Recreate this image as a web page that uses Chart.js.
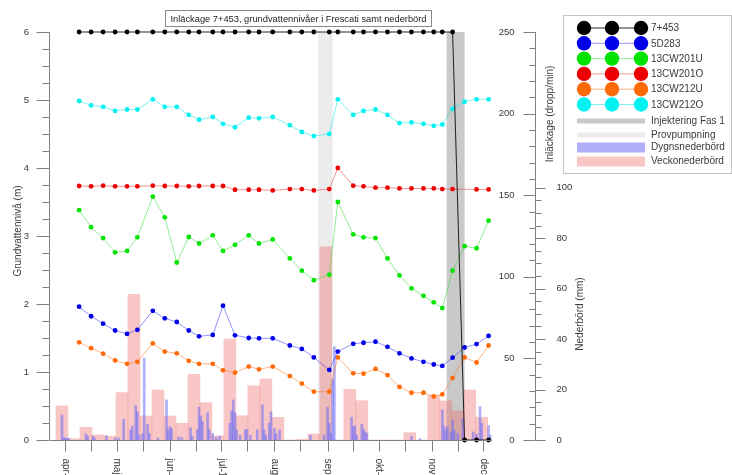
<!DOCTYPE html>
<html>
<head>
<meta charset="utf-8">
<script src="https://cdn.jsdelivr.net/npm/chart.js@4.4.1/dist/chart.umd.min.js"></script>
<style>
  html, body { margin: 0; padding: 0; background: #fff; overflow: hidden; }
</style>
</head>
<body>
<canvas id="chart" width="732" height="475"></canvas>
<script>
// dagar räknade från 1 april
const pointDays = [8, 15, 22, 29, 36, 42, 51, 58, 65, 72, 78, 86, 92, 99, 107, 113, 121, 131, 138, 145,
  154, 159, 168, 174, 181, 188, 195, 202, 209, 215, 220, 226, 233, 240, 247];

const inl7453 = [250, 250, 250, 250, 250, 250, 250, 250, 250, 250, 250, 250, 250, 250, 250, 250, 250, 250, 250, 250,
  250, 250, 250, 250, 250, 250, 250, 250, 250, 250, 250, 250, 0, 0, 0];
const gw5D283 = [1.96, 1.82, 1.71, 1.61, 1.56, 1.62, 1.90, 1.79, 1.735, 1.61, 1.525, 1.545, 1.975, 1.54, 1.50, 1.495, 1.495, 1.39, 1.34, 1.215,
  1.03, 1.30, 1.415, 1.43, 1.445, 1.37, 1.275, 1.20, 1.15, 1.11, 1.09, 1.21, 1.36, 1.41, 1.53];
const gw13CW201U = [3.38, 3.13, 2.97, 2.76, 2.78, 2.98, 3.58, 3.275, 2.61, 2.985, 2.89, 3.01, 2.78, 2.87, 3.01, 2.89, 2.95, 2.67, 2.49, 2.35,
  2.43, 3.50, 3.025, 2.98, 2.97, 2.67, 2.42, 2.23, 2.12, 2.025, 1.94, 2.49, 2.85, 2.82, 3.225];
const gw13CW201O = [3.735, 3.73, 3.74, 3.73, 3.73, 3.73, 3.74, 3.735, 3.735, 3.73, 3.735, 3.735, 3.735, 3.68, 3.68, 3.68, 3.67, 3.69, 3.69, 3.67,
  3.69, 4.00, 3.74, 3.73, 3.71, 3.71, 3.70, 3.70, 3.70, 3.70, 3.69, 3.69, null, 3.685, 3.685];
const gw13CW212U = [1.437, 1.35, 1.27, 1.17, 1.12, 1.15, 1.42, 1.30, 1.275, 1.165, 1.12, 1.12, 1.025, 0.99, 1.08, 1.04, 1.08, 0.94, 0.83, 0.71,
  0.71, 1.215, 0.98, 0.975, 1.045, 0.955, 0.78, 0.695, 0.695, 0.64, 0.67, 0.91, 1.215, 1.14, 1.39];
const gw13CW212O = [4.985, 4.92, 4.90, 4.84, 4.86, 4.86, 5.01, 4.90, 4.90, 4.78, 4.71, 4.75, 4.65, 4.60, 4.74, 4.73, 4.75, 4.63, 4.53, 4.47,
  4.50, 5.01, 4.78, 4.84, 4.86, 4.78, 4.66, 4.67, 4.65, 4.62, 4.64, 4.87, 4.975, 5.01, 5.01];

const seriesNames = ['7+453', '5D283', '13CW201U', '13CW201O', '13CW212U', '13CW212O'];
const seriesValues = [inl7453, gw5D283, gw13CW201U, gw13CW201O, gw13CW212U, gw13CW212O];
const seriesColors = ['#000000', '#0000e8', '#00e400', '#ec0000', '#ff6a08', '#00f2f2'];
const lineColors = ['rgba(0,0,0,0.85)', 'rgba(40,40,255,0.5)', 'rgba(40,220,40,0.5)', 'rgba(236,40,40,0.5)', 'rgba(255,120,30,0.55)', 'rgba(0,230,230,0.5)'];

// veckonederbörd (mm), veckans mittdag
const weekDays = [-2, 5, 12, 19, 26, 33, 40, 47, 54, 61, 68, 75, 82, 89, 96, 103, 110, 117, 124, 131,
  138, 145, 152, 159, 166, 173, 180, 187, 194, 201, 208, 215, 222, 229, 236, 243];
const weekRain = [13.5, 0.5, 5, 2, 1.5, 18.8, 57.7, 9.5, 19.8, 9.5, 6.6, 26, 14.8, 1.6, 40, 9.6, 21.5, 24.2, 9, 0,
  0.3, 2.4, 76.6, 0, 20.1, 15.6, 0, 0, 0, 2.9, 0, 17.6, 15.5, 11.5, 19.8, 9];

// dygnsnederbörd (mm)
const dayDays = [-2, -1, 0, 1, 2, 12, 13, 16, 17, 24, 29, 31, 34, 38, 39, 41, 42, 43, 45, 46,
  48, 49, 54, 59, 60, 61, 62, 66, 68, 73, 74, 77, 78, 79, 80, 83, 84, 86, 88, 90,
  96, 97, 98, 99, 100, 102, 105, 106, 108, 112, 115, 116, 117, 119, 120, 122, 123, 125, 143, 151,
  153, 154, 155, 156, 157, 167, 168, 169, 170, 173, 174, 175, 176, 202, 207, 220, 221, 222, 223, 225,
  226, 227, 229, 232, 238, 240, 242, 243, 247, 248];
const dayRain = [9.9, 1, 0.6, 0.6, 0.6, 2.4, 1.4, 1.6, 0.8, 1.8, 0.8, 0.8, 8.2, 4, 5.5, 13.5, 11.2, 2, 2.4, 32.4,
  6.2, 2.6, 0.8, 15.9, 4, 5.3, 4.6, 1.2, 1, 4.9, 1.6, 4, 13, 9.5, 7.3, 10.8, 4, 2.6, 1, 1.6,
  6.6, 11.6, 15.9, 10.8, 4, 1.9, 4, 4.2, 1.9, 4, 13.9, 4, 1.9, 6.6, 11.2, 4.6, 2.4, 4, 1.9, 2,
  13, 6.6, 2.6, 24, 37, 9, 5.3, 5.5, 1.9, 6.2, 4.2, 3.2, 2.6, 1.5, 0.5, 11.9, 5.5, 4, 5.3, 3.2,
  7.9, 4, 2.6, 8.6, 3.2, 2.4, 13.2, 6.6, 5.7, 1.9];

// perioder
const bandNames = ['Injektering Fas 1', 'Provpumpning'];
const bandStart = [222.5, 147.5];
const bandEnd = [233, 156];
const bandColors = ['#c9c9c9', '#ececec'];

// axlar
const monthTickDays = [0, 30, 61, 91, 122, 153, 183, 214, 244];
const monthLabels = ['apr-', 'maj', 'jun-', 'jul-1', 'aug', 'sep', 'okt-', 'nov', 'dec'];
const midTickDays = [15, 45, 76, 106, 137, 168, 198, 229];
const gwTicks = [0, 1, 2, 3, 4, 5, 6];
const inlTicks = [0, 50, 100, 150, 200, 250];
const rainTicks = [0, 20, 40, 60, 80, 100];

const chartTitle = 'Inläckage 7+453, grundvattennivåer i Frescati samt nederbörd';
const FONT = '"Liberation Sans", Arial, sans-serif';
const TEXT = '#3a3a3a';
const AXIS = '#808080';

function toPoints(days, vals) {
  return days.map((d, i) => ({ x: d, y: vals[i] }));
}

const datasets = seriesNames.map((name, i) => ({
  type: 'line',
  label: name,
  data: toPoints(pointDays, seriesValues[i]),
  yAxisID: i === 0 ? 'y1' : 'y',
  borderColor: lineColors[i],
  backgroundColor: seriesColors[i],
  pointBackgroundColor: seriesColors[i],
  pointBorderWidth: 0,
  pointRadius: 2.4,
  borderWidth: 1,
  spanGaps: true,
  tension: 0,
  clip: false
}));

datasets.push({
  type: 'bar',
  label: 'Dygnsnederbörd',
  data: toPoints(dayDays, dayRain),
  yAxisID: 'y2',
  backgroundColor: 'rgba(110,110,245,0.55)',
  borderWidth: 0,
  barThickness: 2,
  grouped: false
});
datasets.push({
  type: 'bar',
  label: 'Veckonederbörd',
  data: toPoints(weekDays, weekRain),
  yAxisID: 'y2',
  backgroundColor: 'rgba(240,112,112,0.4)',
  borderWidth: 0,
  barThickness: 12,
  grouped: false
});

function hLine(ctx, x0, y0, x1, y1) {
  ctx.beginPath();
  ctx.moveTo(x0, y0);
  ctx.lineTo(x1, y1);
  ctx.stroke();
}

// ritar en lodrät axel: linje, större/mindre streck och etiketter
function drawVAxis(ctx, scale, x, majors, minorStep, dir, majLen, minLen, labelX, align) {
  const top = Math.round(scale.getPixelForValue(majors[majors.length - 1]));
  const bottom = Math.round(scale.getPixelForValue(majors[0]));
  hLine(ctx, x, top, x, bottom);
  for (let v = majors[0]; v <= majors[majors.length - 1] + 1e-6; v += minorStep) {
    const y = Math.round(scale.getPixelForValue(v)) + 0.5;
    const isMajor = majors.some(m => Math.abs(m - v) < 1e-6);
    hLine(ctx, x, y, x + dir * (isMajor ? majLen : minLen), y);
  }
  ctx.textAlign = align;
  ctx.textBaseline = 'middle';
  majors.forEach(m => ctx.fillText(String(m), labelX, scale.getPixelForValue(m)));
}

function rotatedText(ctx, text, x, y, angle, align) {
  ctx.save();
  ctx.translate(x, y);
  ctx.rotate(angle);
  ctx.textAlign = align;
  ctx.textBaseline = 'middle';
  ctx.fillText(text, 0, 0);
  ctx.restore();
}

const overlay = {
  id: 'overlay',
  beforeDatasetsDraw(chart) {
    const ctx = chart.ctx, ca = chart.chartArea, xs = chart.scales.x;
    ctx.save();
    bandNames.forEach((n, i) => {
      const x0 = xs.getPixelForValue(bandStart[i]);
      const x1 = xs.getPixelForValue(bandEnd[i]);
      ctx.fillStyle = bandColors[i];
      ctx.fillRect(x0, ca.top, x1 - x0, ca.bottom - ca.top);
    });
    ctx.restore();
  },
  afterDraw(chart) {
    const ctx = chart.ctx, ca = chart.chartArea;
    const xs = chart.scales.x, ys = chart.scales.y, y1 = chart.scales.y1, y2 = chart.scales.y2;
    ctx.save();
    ctx.strokeStyle = AXIS;
    ctx.lineWidth = 1;
    ctx.fillStyle = TEXT;
    ctx.font = '9.5px ' + FONT;

    // vänster axel
    drawVAxis(ctx, ys, ca.left - 0.5, gwTicks, 0.25, -1, 13, 7, ca.left - 21, 'right');
    ctx.font = '10px ' + FONT;
    rotatedText(ctx, 'Grundvattennivå (m)', 18, 231, -Math.PI / 2, 'center');

    // höger axlar
    const rx = ca.right + 43.5;
    ctx.font = '9.5px ' + FONT;
    drawVAxis(ctx, y1, rx, inlTicks, 10, -1, 12, 6, rx - 21, 'right');
    drawVAxis(ctx, y2, rx, rainTicks, 5, 1, 10, 6, rx + 21, 'left');
    ctx.font = '10px ' + FONT;
    rotatedText(ctx, 'Inläckage (dropp/min)', rx + 15, 114, -Math.PI / 2, 'center');
    rotatedText(ctx, 'Nederbörd (mm)', rx + 45, 314, -Math.PI / 2, 'center');

    // x-axel
    const by = ca.bottom + 0.5;
    hLine(ctx, ca.left, by, ca.right, by);
    monthTickDays.concat(midTickDays).forEach(d => {
      const x = Math.round(xs.getPixelForValue(d)) + 0.5;
      hLine(ctx, x, by, x, by + 11);
    });
    ctx.font = '10px ' + FONT;
    monthTickDays.forEach((d, i) => {
      rotatedText(ctx, monthLabels[i], xs.getPixelForValue(d), by + 18, Math.PI / 2, 'left');
    });

    // rubrik
    ctx.strokeStyle = '#8a8a8a';
    ctx.strokeRect(165.5, 10.5, 266, 16);
    ctx.font = '9.3px ' + FONT;
    ctx.fillStyle = '#222';
    ctx.textAlign = 'center';
    ctx.textBaseline = 'middle';
    ctx.fillText(chartTitle, 298.5, 19);

    // teckenförklaring
    ctx.strokeStyle = '#c4c4c4';
    ctx.strokeRect(563.5, 15.5, 168, 158);
    ctx.font = '10px ' + FONT;
    ctx.textAlign = 'left';
    const cxs = [584, 612, 641];
    seriesNames.forEach((n, i) => {
      const y = 28 + i * 15.3;
      ctx.strokeStyle = lineColors[i];
      hLine(ctx, cxs[0], y, cxs[2], y);
      ctx.fillStyle = seriesColors[i];
      cxs.forEach(cx => {
        ctx.beginPath();
        ctx.arc(cx, y, 7.2, 0, Math.PI * 2);
        ctx.fill();
      });
      ctx.fillStyle = TEXT;
      ctx.fillText(n, 651, y + 0.5);
    });
    const boxEntries = [
      { label: bandNames[0], color: bandColors[0], y: 121, h: 5 },
      { label: bandNames[1], color: bandColors[1], y: 135, h: 5 },
      { label: 'Dygnsnederbörd', color: 'rgba(110,110,245,0.55)', y: 147.5, h: 10 },
      { label: 'Veckonederbörd', color: 'rgba(240,112,112,0.4)', y: 161.5, h: 10 }
    ];
    boxEntries.forEach(e => {
      ctx.fillStyle = e.color;
      ctx.fillRect(577, e.y - e.h / 2, 68, e.h);
      ctx.fillStyle = TEXT;
      ctx.fillText(e.label, 651, e.y);
    });
    ctx.restore();
  }
};

new Chart(document.getElementById('chart'), {
  type: 'line',
  data: { datasets },
  options: {
    responsive: false,
    devicePixelRatio: 1,
    animation: false,
    events: [],
    layout: { padding: { left: 50, top: 32, right: 240, bottom: 35 } },
    plugins: { legend: { display: false }, tooltip: { enabled: false }, title: { display: false } },
    scales: {
      x: { type: 'linear', min: -9, max: 249, offset: false, display: false },
      y: { type: 'linear', min: 0, max: 6, display: false },
      y1: { type: 'linear', min: 0, max: 250, display: false },
      y2: { type: 'linear', min: 0, max: 161.7, display: false }
    }
  },
  plugins: [overlay]
});
</script>
</body>
</html>
